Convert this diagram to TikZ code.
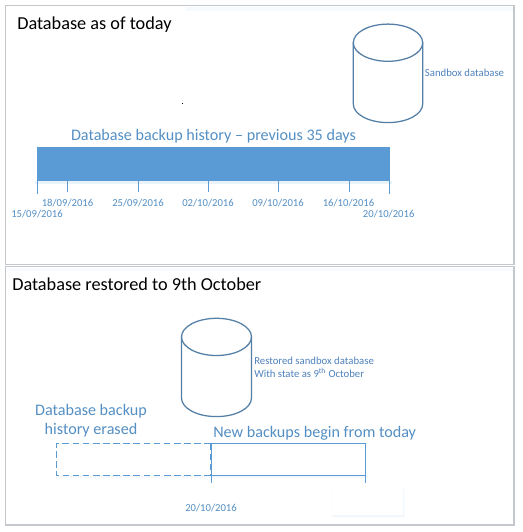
\documentclass[tikz,border=0pt]{standalone}
\usepackage{fontspec}
\setmainfont{Carlito}
\usetikzlibrary{calc}
\definecolor{barblue}{HTML}{5B9BD5}
\definecolor{cylblue}{HTML}{41719C}
\definecolor{smalltxt}{HTML}{4F81BD}
\definecolor{panelgrey}{HTML}{C4C7CC}
\definecolor{softblue}{HTML}{EAF2FA}
\tikzset{
  panel/.style={draw=panelgrey,line width=0.9pt,fill=white},
  titletxt/.style={inner sep=0pt,anchor=west,font=\fontsize{13.7}{16}\selectfont,text=black},
  headtxt/.style={inner sep=0pt,font=\fontsize{12.1}{14.25}\selectfont,text=barblue!92!black,align=center},
  datetxt/.style={inner sep=0pt,font=\fontsize{8}{9.6}\selectfont,text=barblue!92!black},
  dbtxt/.style={inner sep=0pt,anchor=west,font=\fontsize{8.05}{9.75}\selectfont,text=smalltxt,align=left},
  tickline/.style={draw=barblue,line width=0.8pt},
  boxline/.style={draw=barblue,line width=0.8pt},
  dashline/.style={draw=barblue,line width=0.8pt,dash pattern=on 5pt off 2.6pt},
  cylline/.style={draw=cylblue!90!white,line width=0.95pt}
}
\newcommand{\dbcyl}[4]{% centre x, top centre y, rx, side bottom y
  \draw[cylline] (#1-#3,#2) arc[start angle=180,end angle=0,x radius=#3,y radius=18.6]
     arc[start angle=0,end angle=-180,x radius=#3,y radius=18.6];
  \draw[cylline] (#1-#3,#2) -- (#1-#3,#4)
     arc[start angle=180,end angle=360,x radius=#3,y radius=-18.6]
     -- (#1+#3,#2);
}
\begin{document}
\begin{tikzpicture}[x=0.75pt,y=-0.75pt]
\useasboundingbox (0,0) rectangle (522,532);
\fill[white] (0,0) rectangle (522,532);
% panels
\draw[panel] (5.5,5.5) rectangle (514,264.5);
\draw[panel] (5.5,266.5) rectangle (514,525);
\fill[softblue!45] (186,6.5) rectangle (513,11);
\fill[softblue!45] (6.5,267.5) rectangle (513,271);
% top panel
\node[titletxt] (title1) at (17,25) {Database as of today};
\dbcyl{388}{42.7}{34.7}{104}
\node[dbtxt] (sandbox) at (424.7,72.5) {Sandbox database};
\fill[black] (181.6,102.6) rectangle (182.8,103.8);
\node[headtxt] (hist) at (213.5,136.2) {Database backup history – previous 35 days};
\fill[softblue] (35,181) rectangle (392,184);
\fill[barblue] (37,147) rectangle (390,181);
\coordinate (b0) at (37.5,181); \coordinate (e0) at (37.5,193.5);
\coordinate (b1) at (67.5,181); \coordinate (e1) at (67.5,192);
\coordinate (b2) at (138.5,181); \coordinate (e2) at (138.5,192);
\coordinate (b3) at (208.5,181); \coordinate (e3) at (208.5,192);
\coordinate (b4) at (278.5,181); \coordinate (e4) at (278.5,192);
\coordinate (b5) at (349.5,181); \coordinate (e5) at (349.5,192);
\coordinate (b6) at (389.5,181); \coordinate (e6) at (389.5,193.5);
\foreach \i in {0,...,6} \draw[tickline] (b\i) -- (e\i);
\node[datetxt] (d0) at (37,214) {15/09/2016};
\node[datetxt] (d1) at (67.5,203) {18/09/2016};
\node[datetxt] (d2) at (138,203) {25/09/2016};
\node[datetxt] (d3) at (208,203) {02/10/2016};
\node[datetxt] (d4) at (278,203) {09/10/2016};
\node[datetxt] (d5) at (348.5,203) {16/10/2016};
\node[datetxt] (d6) at (388.7,214) {20/10/2016};
% bottom panel
\node[titletxt] (title2) at (12,284.5) {Database restored to 9th October};
\dbcyl{216.5}{336.9}{35}{398}
\node[dbtxt] (restored) at (254,367.5) {Restored sandbox database\\With state as 9\textsuperscript{th} October};
\node[headtxt] (erased) at (91,421) {Database backup\\history erased};
\node[headtxt,anchor=west] (newb) at (213,433) {New backups begin from today};
\foreach \d/\o in {1/0.25,2/0.2,3/0.15} \fill[softblue,opacity=\o] (56,475.5) rectangle (367,475.5+\d);
\draw[dashline] (211,443.5) -- (56.5,443.5) -- (56.5,475.5) -- (211,475.5);
\draw[boxline] (211.5,443.5) rectangle (365.5,475.5);
\draw[dashline] (210.5,443.5) -- (210.5,475.5);
\coordinate (n0) at (211.5,475.5); \coordinate (m0) at (211.5,482.5);
\coordinate (n1) at (365.5,475.5); \coordinate (m1) at (365.5,482.5);
\draw[tickline] (n0) -- (m0);
\draw[tickline] (n1) -- (m1);
\node[datetxt] (d7) at (211,508.5) {20/10/2016};
% faint empty box
\foreach \d/\o in {2/0.2,1/0.4} \fill[softblue,opacity=\o] (333-\d+1,489) rectangle (404+\d-1,515.5+\d);
\fill[white] (333,489) rectangle (403,515);
\end{tikzpicture}
\end{document}
